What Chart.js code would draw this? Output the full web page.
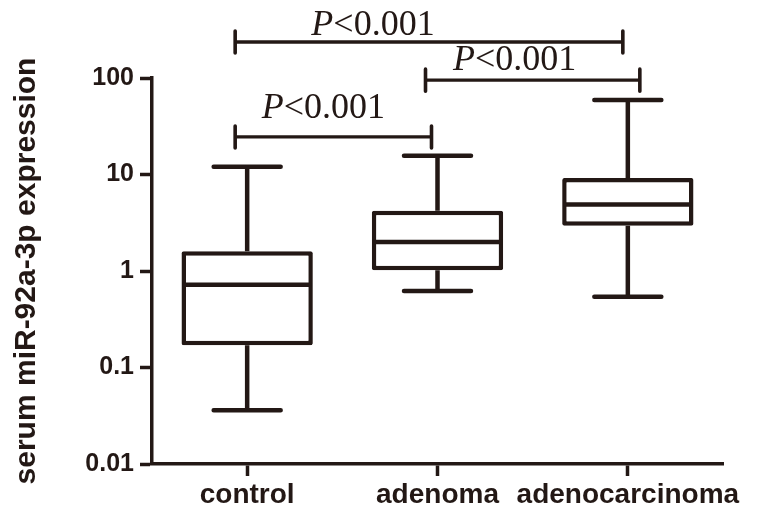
<!DOCTYPE html>
<html><head><meta charset="utf-8">
<script src="https://cdn.jsdelivr.net/npm/chart.js@4/dist/chart.umd.min.js"></script>
<style>html,body{margin:0;padding:0;background:#fff}canvas{display:block}</style>
</head><body>
<canvas id="c" width="765" height="508"></canvas>
<script>
// ---- data ----
const categories = ['control', 'adenoma', 'adenocarcinoma'];
const whiskerMin = [0.036, 0.62, 0.54];
const q1Values = [0.17, 1.02, 2.95];
const medianValues = [0.72, 2.0, 4.9];
const q3Values = [1.6, 4.2, 9.2];
const whiskerMax = [12, 15.6, 59];
const yTickValues = [0.01, 0.1, 1, 10, 100];
const comparisons = [[0, 1], [1, 2], [0, 2]];
const comparisonLevel = [24.5, 95, 236];
const comparisonText = ['<0.001', '<0.001', '<0.001'];

const INK = '#231815';

const boxPlugin = {
  id: 'boxWhiskers',
  afterDatasetsDraw(chart) {
    const xs = chart.scales.x, ys = chart.scales.y, ctx = chart.ctx;
    const meta = chart.getDatasetMeta(0);
    const catW = (xs.right - xs.left) / categories.length;
    const capHalf = catW * 0.176;
    ctx.save();
    ctx.strokeStyle = INK;
    ctx.lineWidth = 4.5;
    categories.forEach((c, i) => {
      const x = xs.getPixelForValue(i);
      const yMax = ys.getPixelForValue(whiskerMax[i]);
      const yMin = ys.getPixelForValue(whiskerMin[i]);
      const yQ1 = ys.getPixelForValue(q1Values[i]);
      const yQ3 = ys.getPixelForValue(q3Values[i]);
      const yMed = ys.getPixelForValue(medianValues[i]);
      ctx.lineCap = 'butt';
      ctx.beginPath();
      ctx.moveTo(x, yQ3); ctx.lineTo(x, yMax);
      ctx.moveTo(x, yQ1); ctx.lineTo(x, yMin);
      ctx.stroke();
      ctx.lineCap = 'round';
      ctx.beginPath();
      ctx.moveTo(x - capHalf, yMax); ctx.lineTo(x + capHalf, yMax);
      ctx.moveTo(x - capHalf, yMin); ctx.lineTo(x + capHalf, yMin);
      ctx.stroke();
      const bar = meta.data[i];
      ctx.lineCap = 'butt';
      ctx.beginPath();
      ctx.moveTo(bar.x - bar.width / 2 + 1, yMed); ctx.lineTo(bar.x + bar.width / 2 - 1, yMed);
      ctx.stroke();
    });
    ctx.restore();
  }
};

const bracketPlugin = {
  id: 'brackets',
  afterDraw(chart, args, opts) {
    const xs = chart.scales.x, ys = chart.scales.y, ctx = chart.ctx;
    ctx.save();
    ctx.strokeStyle = INK;
    ctx.fillStyle = INK;
    comparisons.forEach((pair, k) => {
      const x1 = xs.getPixelForValue(pair[0]) + opts.endOffsets[k][0];
      const x2 = xs.getPixelForValue(pair[1]) + opts.endOffsets[k][1];
      const y = ys.getPixelForValue(comparisonLevel[k]);
      ctx.lineWidth = 3.3;
      ctx.lineCap = 'butt';
      ctx.beginPath();
      ctx.moveTo(x1, y); ctx.lineTo(x2, y);
      ctx.stroke();
      ctx.lineWidth = 3.6;
      ctx.lineCap = 'round';
      ctx.beginPath();
      ctx.moveTo(x1, y - 11); ctx.lineTo(x1, y + 11);
      ctx.moveTo(x2, y - 11); ctx.lineTo(x2, y + 11);
      ctx.stroke();
      // label
      const cx = (x1 + x2) / 2 + opts.labelShift[k];
      const by = y - opts.labelGap[k];
      ctx.textBaseline = 'alphabetic';
      ctx.textAlign = 'left';
      ctx.font = 'italic 36px "Liberation Serif", "Times New Roman", serif';
      const wP = ctx.measureText('P').width;
      ctx.font = '36px "Liberation Serif", "Times New Roman", serif';
      const wR = ctx.measureText(comparisonText[k]).width;
      const x0 = cx - (wP + wR) / 2;
      ctx.font = 'italic 36px "Liberation Serif", "Times New Roman", serif';
      ctx.fillText('P', x0, by);
      ctx.font = '36px "Liberation Serif", "Times New Roman", serif';
      ctx.fillText(comparisonText[k], x0 + wP, by);
    });
    ctx.restore();
  }
};

new Chart(document.getElementById('c'), {
  type: 'bar',
  data: {
    labels: categories,
    datasets: [{
      data: categories.map((c, i) => [q1Values[i], q3Values[i]]),
      backgroundColor: '#ffffff',
      borderColor: INK,
      borderWidth: 4.5,
      borderSkipped: false,
      borderRadius: 2,
      barPercentage: 0.69,
      categoryPercentage: 1.0
    }]
  },
  options: {
    responsive: false,
    animation: false,
    devicePixelRatio: 1,
    layout: { padding: { top: 78, right: 42, left: 0, bottom: 0 } },
    plugins: {
      legend: { display: false },
      tooltip: { enabled: false },
      brackets: {
        endOffsets: [[-12, -6], [-12, 12], [-12, -5]],
        labelShift: [-10, -18, -56],
        labelGap: [19, 10, 7]
      }
    },
    scales: {
      x: {
        type: 'category',
        offset: true,
        grid: { offset: false, drawOnChartArea: false, drawTicks: true, tickLength: 12, tickWidth: 3.5, tickColor: INK },
        border: { display: true, width: 3.5, color: INK },
        ticks: { color: INK, padding: 2, maxRotation: 0, autoSkip: false,
                 font: { family: '"Liberation Sans", Arial, sans-serif', weight: 'bold', size: 28 } },
        afterFit(s) { s.height = 44; }
      },
      y: {
        type: 'logarithmic',
        min: 0.01,
        max: 100,
        afterBuildTicks(s) { s.ticks = yTickValues.map(v => ({ value: v })); },
        grid: { drawOnChartArea: false, drawTicks: true, tickLength: 12, tickWidth: 3.5, tickColor: INK },
        border: { display: true, width: 3.5, color: INK },
        ticks: { color: INK, padding: 6,
                 font: { family: '"Liberation Sans", Arial, sans-serif', weight: 'bold', size: 25 },
                 callback: (v) => yTickValues.includes(v) ? String(v) : '' },
        title: { display: true, text: 'serum miR-92a-3p expression', color: INK,
                 padding: { top: 9, bottom: 0 },
                 font: { family: '"Liberation Sans", Arial, sans-serif', weight: 'bold', size: 30 } },
        afterFit(s) { s.width = 152; }
      }
    }
  },
  plugins: [boxPlugin, bracketPlugin]
});
</script>
</body></html>
